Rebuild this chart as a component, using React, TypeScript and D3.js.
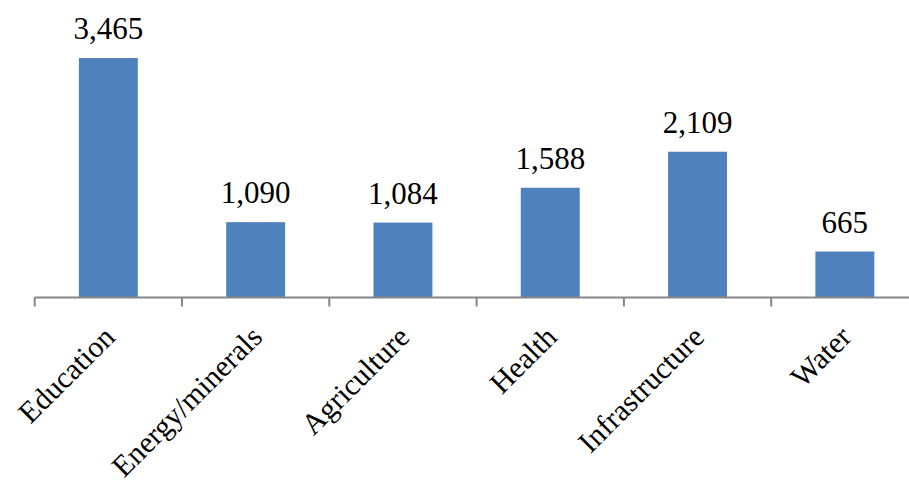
import * as d3 from "d3";
import React from "react";

const categories = ["Education", "Energy/minerals", "Agriculture", "Health", "Infrastructure", "Water"];
const values = [3465, 1090, 1084, 1588, 2109, 665];

const width = 909;
const height = 485;
const axisLeft = 34.7;
const axisRight = 918.5;
const baseline = 297.5;
const plotTop = 58;

export default function App() {
    const xScale = d3.scaleBand<string>()
        .domain(categories)
        .range([axisLeft, axisRight])
        .paddingInner(0.6)
        .paddingOuter(0.3);

    const yScale = d3.scaleLinear()
        .domain([0, 3465])
        .range([baseline, plotTop]);

    const step = xScale.step();
    const fmt = d3.format(",");

    return (
        <svg
            width={width}
            height={height}
            style={{position: "absolute", left: 0, top: 0, background: "#fff"}}
            fontFamily="'Liberation Serif', 'Times New Roman', serif"
        >
            {
                categories.map((c, i) => {
                    const x = xScale(c) ?? 0;
                    const y = yScale(values[i]);
                    return (
                        <g key={c}>
                            <rect
                                x={x}
                                y={y}
                                width={xScale.bandwidth()}
                                height={baseline - y}
                                fill="#4F81BD"
                            />
                            <text
                                x={x + xScale.bandwidth() / 2}
                                y={y - 19}
                                textAnchor="middle"
                                fontSize={31}
                                fill="#000"
                            >
                                {fmt(values[i])}
                            </text>
                        </g>
                    );
                })
            }
            <line x1={axisLeft} x2={axisRight} y1={baseline} y2={baseline} stroke="#868686" strokeWidth={2} />
            {
                d3.range(categories.length + 1).map((i) => (
                    <line
                        key={i}
                        x1={axisLeft + i * step}
                        x2={axisLeft + i * step}
                        y1={baseline}
                        y2={baseline + 9}
                        stroke="#868686"
                        strokeWidth={2}
                    />
                ))
            }
            {
                categories.map((c) => {
                    const cx = (xScale(c) ?? 0) + xScale.bandwidth() / 2;
                    const ty = baseline + 26;
                    return (
                        <text
                            key={c}
                            transform={`translate(${cx - 7}, ${ty}) rotate(-45)`}
                            textAnchor="end"
                            dominantBaseline="hanging"
                            fontSize={30}
                            fill="#000"
                        >
                            {c}
                        </text>
                    );
                })
            }
        </svg>
    );
}
